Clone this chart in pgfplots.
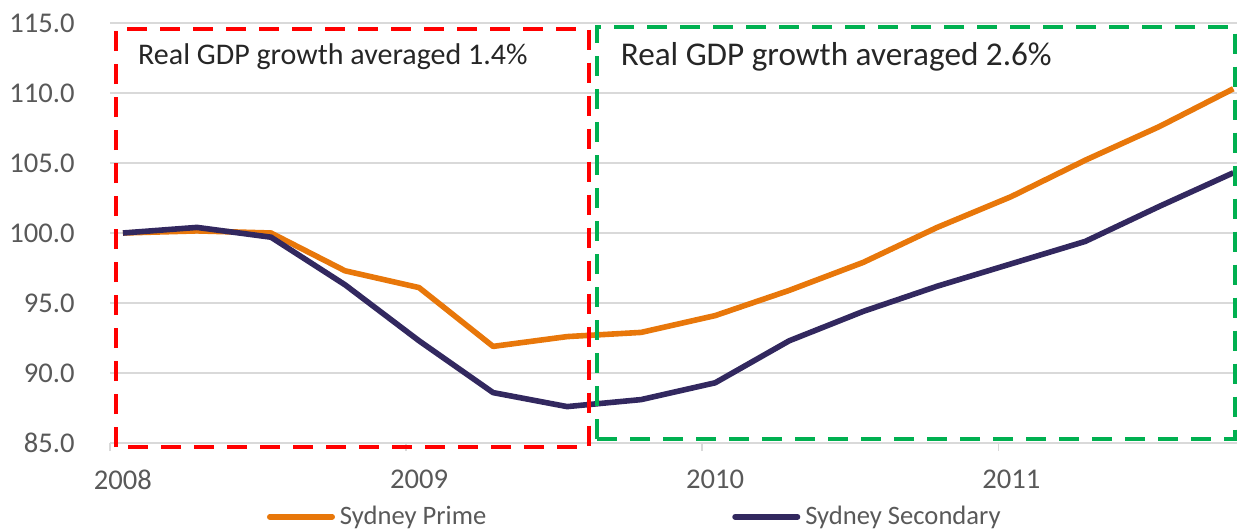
\documentclass[border=0pt]{standalone}
\usepackage{pgfplots}
\pgfplotsset{compat=1.18}
\usepackage{fontspec}
\setmainfont{Carlito}
\definecolor{prime}{RGB}{232,119,10}
\definecolor{second}{RGB}{50,40,95}
\definecolor{gridc}{RGB}{217,217,217}
\definecolor{lab}{RGB}{89,89,89}
\definecolor{redb}{RGB}{255,0,0}
\definecolor{greenb}{RGB}{0,176,80}
\definecolor{txt}{RGB}{38,38,38}
\begin{document}
\begin{tikzpicture}
\path[use as bounding box] (0,0) rectangle (620pt,265pt);
\begin{axis}[
  at={(55pt,43.5pt)}, anchor=south west,
  width=563.5pt, height=210pt, scale only axis,
  xmin=-0.175, xmax=15.05, ymin=85, ymax=115,
  clip=false,
  axis lines*=left,
  axis line style={draw=none},
  ytick={85,90,...,115},
  xtick={0,4,8,12}, xticklabels={2008,2009,2010,2011},
  ymajorgrids, grid style={gridc, line width=0.75pt},
  major tick length=0pt,
  tick style={draw=none},
  extra x ticks={-0.175,3.825,7.825,11.825},
  extra x tick labels={},
  extra x tick style={tick style={draw=gridc, line width=0.75pt}, major tick length=4pt, tick align=outside, grid=none},
  tick label style={font=\fontsize{14.3}{16}\selectfont, text=lab},
  /pgf/number format/assume math mode=true,
  yticklabel style={/pgf/number format/fixed, /pgf/number format/fixed zerofill, /pgf/number format/precision=1},
  yticklabel style={inner sep=0pt, anchor=east, xshift=-17.5pt},
  xticklabel style={inner sep=0pt, anchor=north, yshift=-13.5pt},
  legend columns=2,
  legend style={at={(0.1393,-0.176)}, anchor=west, draw=none, fill=none,
    inner sep=0pt, outer sep=0pt,
    font=\fontsize{13.3}{15}\selectfont, text=lab,
    nodes={inner sep=0pt},
    /tikz/every odd column/.append style={column sep=2.5pt},
    /tikz/every even column/.append style={column sep=123pt}},
  legend cell align=left,
  legend image code/.code={\draw[#1, line width=2.8pt, line cap=round] (1.4pt,0pt) -- (32.6pt,0pt);},
]
\addplot[prime, line width=2.8pt, line join=round] coordinates {
 (0,100.0) (1,100.15) (2,100.0) (3,97.3) (4,96.1) (5,91.9) (6,92.6) (7,92.9)
 (8,94.1) (9,95.9) (10,97.9) (11,100.4) (12,102.6) (13,105.2) (14,107.6) (15,110.3)};
\addlegendentry{Sydney Prime}
\addplot[second, line width=2.8pt, line join=round] coordinates {
 (0,100.0) (1,100.4) (2,99.7) (3,96.3) (4,92.3) (5,88.6) (6,87.6) (7,88.1)
 (8,89.3) (9,92.3) (10,94.4) (11,96.2) (12,97.8) (13,99.4) (14,101.9) (15,104.3)};
\addlegendentry{Sydney Secondary}
\draw[redb, line width=2pt, dash pattern=on 10pt off 6.5pt] (axis cs:-0.09,84.71) rectangle (axis cs:6.29,114.57);
\draw[greenb, line width=2pt, dash pattern=on 10pt off 6.5pt] (axis cs:6.40,85.3) rectangle (axis cs:15.02,114.7);
\node[anchor=west, inner sep=0pt, text=txt, font=\fontsize{15}{18}\selectfont] at (axis cs:0.2,112.57) {Real GDP growth averaged 1.4\%};
\node[anchor=west, inner sep=0pt, text=txt, font=\fontsize{16.6}{19}\selectfont] at (axis cs:6.72,112.57) {Real GDP growth averaged 2.6\%};
\end{axis}
\end{tikzpicture}
\end{document}
